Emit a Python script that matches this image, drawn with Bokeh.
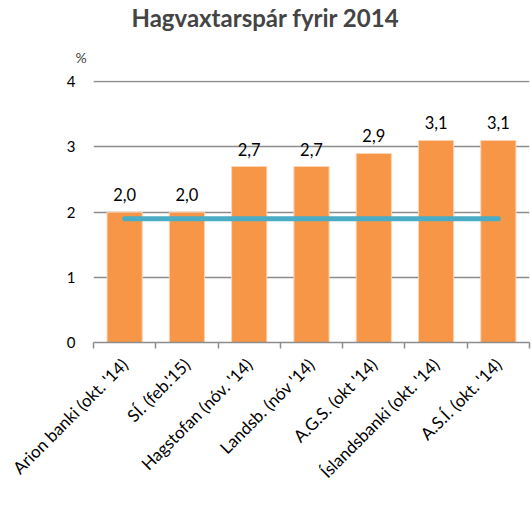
from bokeh.plotting import figure
from bokeh.models import (Range1d, FactorRange, LinearAxis, FixedTicker, Title,
                          Legend, LegendItem, ColumnDataSource)
from bokeh.embed import file_html
from bokeh.resources import INLINE
from bokeh.core.properties import value
import math

categories = ["Arion banki (okt. '14)", "SÍ. (feb.'15)", "Hagstofan (nóv. '14)",
              "Landsb. (nóv '14)", "A.G.S. (okt '14)", "Íslandsbanki (okt. '14)",
              "A.S.Í. (okt. '14)"]
spa = [2.0, 2.0, 2.7, 2.7, 2.9, 3.1, 3.1]
raun = 1.9
y_ticks = [0, 1, 2, 3, 4]
title_text = "Hagvaxtarspár fyrir 2014"
unit_text = "%"

FONT = "Lato"
ORANGE = "#F79646"
BLUE = "#4BACC6"
GRID = "#8C8C8C"

src = ColumnDataSource(dict(
    cat=categories,
    spa=spa,
    lbl=[f"{v:.1f}".replace(".", ",") for v in spa],
    raun=[raun] * len(categories),
))

p = figure(frame_width=436, frame_height=262, x_range=FactorRange(*categories),
           y_range=Range1d(0, 4.02), output_backend="svg", toolbar_location=None,
           x_axis_location=None, min_border_left=93, min_border_right=2,
           min_border_top=80, min_border_bottom=0)
p.outline_line_color = None
p.background_fill_color = "white"
p.border_fill_color = "white"

# Grid
p.xgrid.grid_line_color = None
p.ygrid.ticker = FixedTicker(ticks=y_ticks)
p.ygrid.grid_line_color = GRID
p.ygrid.grid_line_width = 1.5

# Y axis
p.yaxis.ticker = FixedTicker(ticks=y_ticks)
p.yaxis.axis_line_color = None
p.yaxis.major_tick_line_color = None
p.yaxis.minor_tick_line_color = None
p.yaxis.major_label_text_font = FONT
p.yaxis.major_label_text_font_size = "15px"
p.yaxis.major_label_text_color = "#000000"
p.yaxis.major_label_standoff = 12

# X axis: labels at category centres, ticks at category boundaries
# (FactorRange synthetic coordinates: factor i is centred at i + 0.5)
n = len(categories)
xa = LinearAxis(ticker=FixedTicker(ticks=[i + 0.5 for i in range(n)],
                                   minor_ticks=list(range(0, n + 1))),
                major_label_overrides={i + 0.5: c for i, c in enumerate(categories)})
xa.axis_line_color = GRID
xa.axis_line_width = 1.5
xa.major_tick_line_color = None
xa.minor_tick_line_color = GRID
xa.minor_tick_line_width = 1.5
xa.minor_tick_out = 6
xa.minor_tick_in = 0
xa.major_label_orientation = math.pi / 4
xa.major_label_text_font = FONT
xa.major_label_text_font_size = "17px"
xa.major_label_text_color = "#000000"
xa.major_label_standoff = 13
p.add_layout(xa, "below")

bars = p.vbar(x="cat", top="spa", width=0.565, source=src, fill_color=ORANGE,
              line_color="#FCD5B5", line_width=1)
line = p.line(x="cat", y="raun", source=src, line_color=BLUE, line_width=5,
              line_cap="round")
p.text(x="cat", y="spa", text="lbl", source=src, text_align="center",
       text_baseline="bottom", y_offset=-11, text_font=value(FONT),
       text_font_size="16.5px", text_color="#000000")

t_unit = Title(text=unit_text, align="left", offset=-18, standoff=30,
               text_font=FONT, text_font_size="14px", text_font_style="normal")
t_main = Title(text=title_text, align="left", offset=38, standoff=0,
               text_font=FONT, text_font_size="24px", text_font_style="bold")
p.add_layout(t_unit, "above")
p.add_layout(t_main, "above")

legend = Legend(items=[LegendItem(label="Spá", renderers=[bars]),
                       LegendItem(label="Raun", renderers=[line])],
                orientation="horizontal", location=(100, 0),
                glyph_width=52, glyph_height=12, label_width=100, spacing=7,
                padding=0, margin=0, label_standoff=5,
                label_text_font=FONT, label_text_font_size="16px",
                border_line_color=None, background_fill_alpha=0)
p.add_layout(legend, "below")

open("out.html", "w").write(file_html(p, INLINE))
